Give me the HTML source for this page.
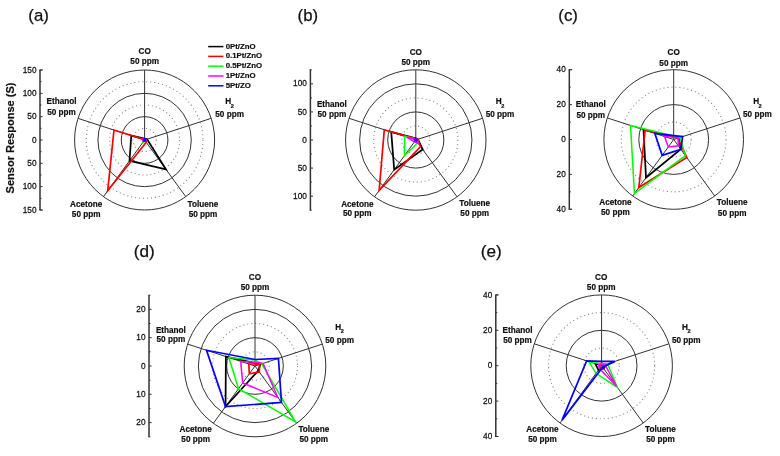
<!DOCTYPE html>
<html><head><meta charset="utf-8"><style>
html,body{margin:0;padding:0;background:#fff;}
body{width:780px;height:456px;overflow:hidden;}
svg{display:block;filter:blur(0.3px);}
text{font-family:"Liberation Sans", sans-serif;fill:#111;}
.tl{font-size:8px;stroke:#111;stroke-width:0.25px;}
.pl{font-size:16px;stroke:#111;stroke-width:0.25px;}
.cl{font-size:8.2px;font-weight:bold;stroke:#111;stroke-width:0.2px;}
.sub{font-size:5.6px;}
.yt{font-size:10.3px;font-weight:bold;stroke:#111;stroke-width:0.2px;}
.lg{font-size:7.8px;font-weight:bold;stroke:#111;stroke-width:0.2px;}
</style></head><body>
<svg width="780" height="456" viewBox="0 0 780 456">
<rect width="780" height="456" fill="#fff"/>
<circle cx="144.60" cy="140.00" r="11.67" fill="none" stroke="#8c8c8c" stroke-width="1.1" stroke-dasharray="1.1 2.9"/>
<circle cx="144.60" cy="140.00" r="35.00" fill="none" stroke="#8c8c8c" stroke-width="1.1" stroke-dasharray="1.1 2.9"/>
<circle cx="144.60" cy="140.00" r="58.33" fill="none" stroke="#8c8c8c" stroke-width="1.1" stroke-dasharray="1.1 2.9"/>
<circle cx="144.60" cy="140.00" r="23.33" fill="none" stroke="#333" stroke-width="1"/>
<circle cx="144.60" cy="140.00" r="46.67" fill="none" stroke="#333" stroke-width="1"/>
<circle cx="144.60" cy="140.00" r="70.00" fill="none" stroke="#333" stroke-width="1"/>
<line x1="144.60" y1="140.00" x2="144.60" y2="70.00" stroke="#333" stroke-width="1"/>
<line x1="144.60" y1="140.00" x2="211.17" y2="118.37" stroke="#333" stroke-width="1"/>
<line x1="144.60" y1="140.00" x2="185.74" y2="196.63" stroke="#333" stroke-width="1"/>
<line x1="144.60" y1="140.00" x2="103.46" y2="196.63" stroke="#333" stroke-width="1"/>
<line x1="144.60" y1="140.00" x2="78.03" y2="118.37" stroke="#333" stroke-width="1"/>
<polygon points="144.60,138.60 147.09,139.19 166.00,169.45 129.51,160.76 131.29,135.67" fill="none" stroke="#000000" stroke-width="1.75" stroke-linejoin="miter"/>
<polygon points="144.60,139.53 145.93,139.57 146.25,142.27 107.71,190.78 113.98,130.05" fill="none" stroke="#ff0000" stroke-width="1.7" stroke-linejoin="miter"/>
<polygon points="144.60,139.07 145.49,139.71 145.42,141.13 142.95,142.27 143.27,139.57" fill="none" stroke="#00ff00" stroke-width="1.5" stroke-linejoin="miter"/>
<polygon points="144.60,138.60 145.93,139.57 145.42,141.13 143.50,141.51 142.16,139.21" fill="none" stroke="#ff00ff" stroke-width="1.5" stroke-linejoin="miter"/>
<polygon points="144.60,138.79 145.75,139.63 145.31,140.98 143.89,140.98 143.45,139.63" fill="none" stroke="#0000ff" stroke-width="1.7" stroke-linejoin="miter"/>
<line x1="40.0" y1="70.00" x2="40.0" y2="210.00" stroke="#333" stroke-width="1.5"/>
<line x1="40.0" y1="70.00" x2="42.6" y2="70.00" stroke="#333" stroke-width="1"/>
<text transform="translate(36.50,72.60) scale(0.92,1)" text-anchor="end" class="tl" style="font-size:9px">150</text>
<line x1="40.0" y1="210.00" x2="42.6" y2="210.00" stroke="#333" stroke-width="1"/>
<text transform="translate(36.50,212.60) scale(0.92,1)" text-anchor="end" class="tl" style="font-size:9px">150</text>
<line x1="40.0" y1="93.33" x2="42.6" y2="93.33" stroke="#333" stroke-width="1"/>
<text transform="translate(36.50,95.93) scale(0.92,1)" text-anchor="end" class="tl" style="font-size:9px">100</text>
<line x1="40.0" y1="186.67" x2="42.6" y2="186.67" stroke="#333" stroke-width="1"/>
<text transform="translate(36.50,189.27) scale(0.92,1)" text-anchor="end" class="tl" style="font-size:9px">100</text>
<line x1="40.0" y1="116.67" x2="42.6" y2="116.67" stroke="#333" stroke-width="1"/>
<text transform="translate(36.50,119.27) scale(0.92,1)" text-anchor="end" class="tl" style="font-size:9px">50</text>
<line x1="40.0" y1="163.33" x2="42.6" y2="163.33" stroke="#333" stroke-width="1"/>
<text transform="translate(36.50,165.93) scale(0.92,1)" text-anchor="end" class="tl" style="font-size:9px">50</text>
<line x1="40.0" y1="140.00" x2="42.6" y2="140.00" stroke="#333" stroke-width="1"/>
<text transform="translate(36.50,142.60) scale(0.92,1)" text-anchor="end" class="tl" style="font-size:9px">0</text>
<line x1="40.0" y1="81.67" x2="41.5" y2="81.67" stroke="#333" stroke-width="1"/>
<line x1="40.0" y1="198.33" x2="41.5" y2="198.33" stroke="#333" stroke-width="1"/>
<line x1="40.0" y1="105.00" x2="41.5" y2="105.00" stroke="#333" stroke-width="1"/>
<line x1="40.0" y1="175.00" x2="41.5" y2="175.00" stroke="#333" stroke-width="1"/>
<line x1="40.0" y1="128.33" x2="41.5" y2="128.33" stroke="#333" stroke-width="1"/>
<line x1="40.0" y1="151.67" x2="41.5" y2="151.67" stroke="#333" stroke-width="1"/>
<line x1="39.25" y1="70.00" x2="42.6" y2="70.00" stroke="#333" stroke-width="1"/>
<line x1="39.25" y1="210.00" x2="42.6" y2="210.00" stroke="#333" stroke-width="1"/>
<text x="28.3" y="20.9" class="pl" style="font-size:16.8px">(a)</text>
<text x="144.70" y="53.70" text-anchor="middle" class="cl">CO</text>
<text x="144.70" y="63.80" text-anchor="middle" class="cl">50 ppm</text>
<text x="61.50" y="104.20" text-anchor="middle" class="cl">Ethanol</text>
<text x="61.50" y="114.80" text-anchor="middle" class="cl">50 ppm</text>
<text x="86.20" y="206.70" text-anchor="middle" class="cl">Acetone</text>
<text x="86.20" y="217.00" text-anchor="middle" class="cl">50 ppm</text>
<text x="203.00" y="206.50" text-anchor="middle" class="cl">Toluene</text>
<text x="203.00" y="216.70" text-anchor="middle" class="cl">50 ppm</text>
<text x="229.60" y="103.80" text-anchor="middle" class="cl">H<tspan class="sub" dx="-0.5" dy="3.7">2</tspan></text>
<text x="229.60" y="116.90" text-anchor="middle" class="cl">50 ppm</text>
<circle cx="415.80" cy="140.00" r="14.04" fill="none" stroke="#8c8c8c" stroke-width="1.1" stroke-dasharray="1.1 2.9"/>
<circle cx="415.80" cy="140.00" r="42.12" fill="none" stroke="#8c8c8c" stroke-width="1.1" stroke-dasharray="1.1 2.9"/>
<circle cx="415.80" cy="140.00" r="28.08" fill="none" stroke="#333" stroke-width="1"/>
<circle cx="415.80" cy="140.00" r="56.16" fill="none" stroke="#333" stroke-width="1"/>
<circle cx="415.80" cy="140.00" r="70.20" fill="none" stroke="#333" stroke-width="1"/>
<line x1="415.80" y1="140.00" x2="415.80" y2="69.80" stroke="#333" stroke-width="1"/>
<line x1="415.80" y1="140.00" x2="482.56" y2="118.31" stroke="#333" stroke-width="1"/>
<line x1="415.80" y1="140.00" x2="457.06" y2="196.79" stroke="#333" stroke-width="1"/>
<line x1="415.80" y1="140.00" x2="374.54" y2="196.79" stroke="#333" stroke-width="1"/>
<line x1="415.80" y1="140.00" x2="349.04" y2="118.31" stroke="#333" stroke-width="1"/>
<polygon points="415.80,138.32 417.94,139.31 422.73,149.54 394.21,169.71 391.23,132.02" fill="none" stroke="#000000" stroke-width="1.75" stroke-linejoin="miter"/>
<polygon points="415.80,138.88 417.40,139.48 420.52,146.50 379.16,190.43 384.29,129.76" fill="none" stroke="#ff0000" stroke-width="1.7" stroke-linejoin="miter"/>
<polygon points="415.80,138.88 417.40,139.48 417.78,142.73 404.41,155.67 404.58,136.36" fill="none" stroke="#00ff00" stroke-width="1.5" stroke-linejoin="miter"/>
<polygon points="415.80,138.88 417.40,139.48 418.28,143.41 414.48,141.82 406.72,137.05" fill="none" stroke="#ff00ff" stroke-width="1.5" stroke-linejoin="miter"/>
<polygon points="415.80,138.99 416.98,139.62 416.53,141.00 415.21,140.82 414.62,139.62" fill="none" stroke="#0000ff" stroke-width="1.7" stroke-linejoin="miter"/>
<line x1="310.4" y1="69.80" x2="310.4" y2="210.20" stroke="#333" stroke-width="1.5"/>
<line x1="310.4" y1="83.84" x2="313.0" y2="83.84" stroke="#333" stroke-width="1"/>
<text transform="translate(306.90,86.44) scale(0.92,1)" text-anchor="end" class="tl" style="font-size:9px">100</text>
<line x1="310.4" y1="196.16" x2="313.0" y2="196.16" stroke="#333" stroke-width="1"/>
<text transform="translate(306.90,198.76) scale(0.92,1)" text-anchor="end" class="tl" style="font-size:9px">100</text>
<line x1="310.4" y1="111.92" x2="313.0" y2="111.92" stroke="#333" stroke-width="1"/>
<text transform="translate(306.90,114.52) scale(0.92,1)" text-anchor="end" class="tl" style="font-size:9px">50</text>
<line x1="310.4" y1="168.08" x2="313.0" y2="168.08" stroke="#333" stroke-width="1"/>
<text transform="translate(306.90,170.68) scale(0.92,1)" text-anchor="end" class="tl" style="font-size:9px">50</text>
<line x1="310.4" y1="140.00" x2="313.0" y2="140.00" stroke="#333" stroke-width="1"/>
<text transform="translate(306.90,142.60) scale(0.92,1)" text-anchor="end" class="tl" style="font-size:9px">0</text>
<line x1="310.4" y1="97.88" x2="311.9" y2="97.88" stroke="#333" stroke-width="1"/>
<line x1="310.4" y1="182.12" x2="311.9" y2="182.12" stroke="#333" stroke-width="1"/>
<line x1="310.4" y1="125.96" x2="311.9" y2="125.96" stroke="#333" stroke-width="1"/>
<line x1="310.4" y1="154.04" x2="311.9" y2="154.04" stroke="#333" stroke-width="1"/>
<line x1="309.65" y1="69.80" x2="311.79999999999995" y2="69.80" stroke="#333" stroke-width="1"/>
<line x1="309.65" y1="210.20" x2="311.79999999999995" y2="210.20" stroke="#333" stroke-width="1"/>
<text x="297.6" y="20.9" class="pl" style="font-size:16.8px">(b)</text>
<text x="415.80" y="54.50" text-anchor="middle" class="cl">CO</text>
<text x="415.80" y="64.70" text-anchor="middle" class="cl">50 ppm</text>
<text x="331.90" y="106.70" text-anchor="middle" class="cl">Ethanol</text>
<text x="331.90" y="116.90" text-anchor="middle" class="cl">50 ppm</text>
<text x="357.30" y="206.50" text-anchor="middle" class="cl">Acetone</text>
<text x="357.30" y="216.40" text-anchor="middle" class="cl">50 ppm</text>
<text x="474.70" y="206.20" text-anchor="middle" class="cl">Toluene</text>
<text x="474.70" y="216.40" text-anchor="middle" class="cl">50 ppm</text>
<text x="500.00" y="104.20" text-anchor="middle" class="cl">H<tspan class="sub" dx="-0.5" dy="3.7">2</tspan></text>
<text x="500.00" y="116.90" text-anchor="middle" class="cl">50 ppm</text>
<circle cx="673.70" cy="139.50" r="17.45" fill="none" stroke="#8c8c8c" stroke-width="1.1" stroke-dasharray="1.1 2.9"/>
<circle cx="673.70" cy="139.50" r="52.35" fill="none" stroke="#8c8c8c" stroke-width="1.1" stroke-dasharray="1.1 2.9"/>
<circle cx="673.70" cy="139.50" r="34.90" fill="none" stroke="#333" stroke-width="1"/>
<circle cx="673.70" cy="139.50" r="69.80" fill="none" stroke="#333" stroke-width="1"/>
<line x1="673.70" y1="139.50" x2="673.70" y2="69.70" stroke="#333" stroke-width="1"/>
<line x1="673.70" y1="139.50" x2="740.08" y2="117.93" stroke="#333" stroke-width="1"/>
<line x1="673.70" y1="139.50" x2="714.73" y2="195.97" stroke="#333" stroke-width="1"/>
<line x1="673.70" y1="139.50" x2="632.67" y2="195.97" stroke="#333" stroke-width="1"/>
<line x1="673.70" y1="139.50" x2="607.32" y2="117.93" stroke="#333" stroke-width="1"/>
<polygon points="673.70,136.88 678.68,137.88 680.78,149.24 646.01,177.62 643.50,129.69" fill="none" stroke="#000000" stroke-width="1.75" stroke-linejoin="miter"/>
<polygon points="673.70,136.88 677.85,138.15 686.73,157.43 638.83,187.50 645.15,130.23" fill="none" stroke="#ff0000" stroke-width="1.7" stroke-linejoin="miter"/>
<polygon points="673.70,136.01 680.01,137.45 685.39,155.59 634.42,193.57 630.55,125.48" fill="none" stroke="#00ff00" stroke-width="1.5" stroke-linejoin="miter"/>
<polygon points="673.70,136.88 678.18,138.04 678.32,145.85 668.26,146.98 664.57,136.53" fill="none" stroke="#ff00ff" stroke-width="1.5" stroke-linejoin="miter"/>
<polygon points="673.70,135.66 682.66,136.59 680.78,149.24 662.21,155.31 654.78,133.35" fill="none" stroke="#0000ff" stroke-width="1.7" stroke-linejoin="miter"/>
<line x1="569.3" y1="69.70" x2="569.3" y2="209.30" stroke="#333" stroke-width="1.5"/>
<line x1="569.3" y1="69.70" x2="571.9" y2="69.70" stroke="#333" stroke-width="1"/>
<text transform="translate(565.80,72.30) scale(0.92,1)" text-anchor="end" class="tl" style="font-size:9px">40</text>
<line x1="569.3" y1="209.30" x2="571.9" y2="209.30" stroke="#333" stroke-width="1"/>
<text transform="translate(565.80,211.90) scale(0.92,1)" text-anchor="end" class="tl" style="font-size:9px">40</text>
<line x1="569.3" y1="104.60" x2="571.9" y2="104.60" stroke="#333" stroke-width="1"/>
<text transform="translate(565.80,107.20) scale(0.92,1)" text-anchor="end" class="tl" style="font-size:9px">20</text>
<line x1="569.3" y1="174.40" x2="571.9" y2="174.40" stroke="#333" stroke-width="1"/>
<text transform="translate(565.80,177.00) scale(0.92,1)" text-anchor="end" class="tl" style="font-size:9px">20</text>
<line x1="569.3" y1="139.50" x2="571.9" y2="139.50" stroke="#333" stroke-width="1"/>
<text transform="translate(565.80,142.10) scale(0.92,1)" text-anchor="end" class="tl" style="font-size:9px">0</text>
<line x1="569.3" y1="87.15" x2="570.8" y2="87.15" stroke="#333" stroke-width="1"/>
<line x1="569.3" y1="191.85" x2="570.8" y2="191.85" stroke="#333" stroke-width="1"/>
<line x1="569.3" y1="122.05" x2="570.8" y2="122.05" stroke="#333" stroke-width="1"/>
<line x1="569.3" y1="156.95" x2="570.8" y2="156.95" stroke="#333" stroke-width="1"/>
<line x1="568.55" y1="69.70" x2="571.9" y2="69.70" stroke="#333" stroke-width="1"/>
<line x1="568.55" y1="209.30" x2="571.9" y2="209.30" stroke="#333" stroke-width="1"/>
<text x="558.3" y="20.9" class="pl" style="font-size:16.8px">(c)</text>
<text x="673.70" y="55.00" text-anchor="middle" class="cl">CO</text>
<text x="673.70" y="65.70" text-anchor="middle" class="cl">50 ppm</text>
<text x="590.75" y="106.50" text-anchor="middle" class="cl">Ethanol</text>
<text x="590.75" y="117.50" text-anchor="middle" class="cl">50 ppm</text>
<text x="615.40" y="205.20" text-anchor="middle" class="cl">Acetone</text>
<text x="615.40" y="215.40" text-anchor="middle" class="cl">50 ppm</text>
<text x="732.20" y="204.90" text-anchor="middle" class="cl">Toluene</text>
<text x="732.20" y="215.70" text-anchor="middle" class="cl">50 ppm</text>
<text x="757.40" y="104.20" text-anchor="middle" class="cl">H<tspan class="sub" dx="-0.5" dy="3.7">2</tspan></text>
<text x="757.40" y="117.30" text-anchor="middle" class="cl">50 ppm</text>
<circle cx="255.00" cy="366.00" r="14.16" fill="none" stroke="#8c8c8c" stroke-width="1.1" stroke-dasharray="1.1 2.9"/>
<circle cx="255.00" cy="366.00" r="42.48" fill="none" stroke="#8c8c8c" stroke-width="1.1" stroke-dasharray="1.1 2.9"/>
<circle cx="255.00" cy="366.00" r="28.32" fill="none" stroke="#333" stroke-width="1"/>
<circle cx="255.00" cy="366.00" r="56.64" fill="none" stroke="#333" stroke-width="1"/>
<circle cx="255.00" cy="366.00" r="70.80" fill="none" stroke="#333" stroke-width="1"/>
<line x1="255.00" y1="366.00" x2="255.00" y2="295.20" stroke="#333" stroke-width="1"/>
<line x1="255.00" y1="366.00" x2="322.33" y2="344.12" stroke="#333" stroke-width="1"/>
<line x1="255.00" y1="366.00" x2="296.62" y2="423.28" stroke="#333" stroke-width="1"/>
<line x1="255.00" y1="366.00" x2="213.38" y2="423.28" stroke="#333" stroke-width="1"/>
<line x1="255.00" y1="366.00" x2="187.67" y2="344.12" stroke="#333" stroke-width="1"/>
<polygon points="255.00,363.17 260.39,364.25 258.33,370.58 225.54,406.55 225.91,356.55" fill="none" stroke="#000000" stroke-width="1.75" stroke-linejoin="miter"/>
<polygon points="255.00,364.02 259.58,364.51 259.33,371.96 249.34,373.79 248.81,363.99" fill="none" stroke="#ff0000" stroke-width="1.7" stroke-linejoin="miter"/>
<polygon points="255.00,360.05 261.73,363.81 295.62,421.90 238.52,388.68 228.87,357.51" fill="none" stroke="#00ff00" stroke-width="1.5" stroke-linejoin="miter"/>
<polygon points="255.00,362.32 263.08,363.37 277.81,397.39 242.68,382.95 240.73,361.36" fill="none" stroke="#ff00ff" stroke-width="1.5" stroke-linejoin="miter"/>
<polygon points="255.00,359.49 278.43,358.39 281.47,402.43 225.54,406.55 206.52,350.25" fill="none" stroke="#0000ff" stroke-width="1.7" stroke-linejoin="miter"/>
<line x1="149.0" y1="295.20" x2="149.0" y2="436.80" stroke="#333" stroke-width="1.5"/>
<line x1="149.0" y1="309.36" x2="151.6" y2="309.36" stroke="#333" stroke-width="1"/>
<text transform="translate(145.50,311.96) scale(0.92,1)" text-anchor="end" class="tl" style="font-size:9px">20</text>
<line x1="149.0" y1="422.64" x2="151.6" y2="422.64" stroke="#333" stroke-width="1"/>
<text transform="translate(145.50,425.24) scale(0.92,1)" text-anchor="end" class="tl" style="font-size:9px">20</text>
<line x1="149.0" y1="337.68" x2="151.6" y2="337.68" stroke="#333" stroke-width="1"/>
<text transform="translate(145.50,340.28) scale(0.92,1)" text-anchor="end" class="tl" style="font-size:9px">10</text>
<line x1="149.0" y1="394.32" x2="151.6" y2="394.32" stroke="#333" stroke-width="1"/>
<text transform="translate(145.50,396.92) scale(0.92,1)" text-anchor="end" class="tl" style="font-size:9px">10</text>
<line x1="149.0" y1="366.00" x2="151.6" y2="366.00" stroke="#333" stroke-width="1"/>
<text transform="translate(145.50,368.60) scale(0.92,1)" text-anchor="end" class="tl" style="font-size:9px">0</text>
<line x1="149.0" y1="323.52" x2="150.5" y2="323.52" stroke="#333" stroke-width="1"/>
<line x1="149.0" y1="408.48" x2="150.5" y2="408.48" stroke="#333" stroke-width="1"/>
<line x1="149.0" y1="351.84" x2="150.5" y2="351.84" stroke="#333" stroke-width="1"/>
<line x1="149.0" y1="380.16" x2="150.5" y2="380.16" stroke="#333" stroke-width="1"/>
<line x1="148.25" y1="295.20" x2="150.4" y2="295.20" stroke="#333" stroke-width="1"/>
<line x1="148.25" y1="436.80" x2="150.4" y2="436.80" stroke="#333" stroke-width="1"/>
<text x="133.8" y="256.9" class="pl" style="font-size:17.2px">(d)</text>
<text x="255.00" y="280.40" text-anchor="middle" class="cl">CO</text>
<text x="255.00" y="290.40" text-anchor="middle" class="cl">50 ppm</text>
<text x="170.90" y="332.70" text-anchor="middle" class="cl">Ethanol</text>
<text x="170.90" y="342.30" text-anchor="middle" class="cl">50 ppm</text>
<text x="195.70" y="431.80" text-anchor="middle" class="cl">Acetone</text>
<text x="195.70" y="442.40" text-anchor="middle" class="cl">50 ppm</text>
<text x="313.80" y="431.80" text-anchor="middle" class="cl">Toluene</text>
<text x="313.80" y="442.40" text-anchor="middle" class="cl">50 ppm</text>
<text x="339.60" y="329.60" text-anchor="middle" class="cl">H<tspan class="sub" dx="-0.5" dy="3.7">2</tspan></text>
<text x="339.60" y="342.60" text-anchor="middle" class="cl">50 ppm</text>
<circle cx="601.60" cy="365.70" r="17.70" fill="none" stroke="#8c8c8c" stroke-width="1.1" stroke-dasharray="1.1 2.9"/>
<circle cx="601.60" cy="365.70" r="53.10" fill="none" stroke="#8c8c8c" stroke-width="1.1" stroke-dasharray="1.1 2.9"/>
<circle cx="601.60" cy="365.70" r="35.40" fill="none" stroke="#333" stroke-width="1"/>
<circle cx="601.60" cy="365.70" r="70.80" fill="none" stroke="#333" stroke-width="1"/>
<line x1="601.60" y1="365.70" x2="601.60" y2="294.90" stroke="#333" stroke-width="1"/>
<line x1="601.60" y1="365.70" x2="668.93" y2="343.82" stroke="#333" stroke-width="1"/>
<line x1="601.60" y1="365.70" x2="643.22" y2="422.98" stroke="#333" stroke-width="1"/>
<line x1="601.60" y1="365.70" x2="559.98" y2="422.98" stroke="#333" stroke-width="1"/>
<line x1="601.60" y1="365.70" x2="534.27" y2="343.82" stroke="#333" stroke-width="1"/>
<polygon points="601.60,363.93 606.65,364.06 603.68,368.56 598.48,370.00 595.20,363.62" fill="none" stroke="#000000" stroke-width="1.75" stroke-linejoin="miter"/>
<polygon points="601.60,363.05 604.13,364.88 603.16,367.85 600.04,367.85 599.07,364.88" fill="none" stroke="#ff0000" stroke-width="1.7" stroke-linejoin="miter"/>
<polygon points="601.60,363.93 607.49,363.79 617.41,387.47 596.09,373.29 588.81,361.54" fill="none" stroke="#00ff00" stroke-width="1.5" stroke-linejoin="miter"/>
<polygon points="601.60,363.93 604.97,364.61 616.58,386.32 599.52,368.56 598.57,364.72" fill="none" stroke="#ff00ff" stroke-width="1.5" stroke-linejoin="miter"/>
<polygon points="601.60,361.45 614.90,361.38 602.64,367.13 562.07,420.11 586.62,360.83" fill="none" stroke="#0000ff" stroke-width="1.7" stroke-linejoin="miter"/>
<line x1="495.8" y1="294.90" x2="495.8" y2="436.50" stroke="#333" stroke-width="1.5"/>
<line x1="495.8" y1="294.90" x2="498.40000000000003" y2="294.90" stroke="#333" stroke-width="1"/>
<text transform="translate(492.30,297.50) scale(0.92,1)" text-anchor="end" class="tl" style="font-size:9px">40</text>
<line x1="495.8" y1="436.50" x2="498.40000000000003" y2="436.50" stroke="#333" stroke-width="1"/>
<text transform="translate(492.30,439.10) scale(0.92,1)" text-anchor="end" class="tl" style="font-size:9px">40</text>
<line x1="495.8" y1="330.30" x2="498.40000000000003" y2="330.30" stroke="#333" stroke-width="1"/>
<text transform="translate(492.30,332.90) scale(0.92,1)" text-anchor="end" class="tl" style="font-size:9px">20</text>
<line x1="495.8" y1="401.10" x2="498.40000000000003" y2="401.10" stroke="#333" stroke-width="1"/>
<text transform="translate(492.30,403.70) scale(0.92,1)" text-anchor="end" class="tl" style="font-size:9px">20</text>
<line x1="495.8" y1="365.70" x2="498.40000000000003" y2="365.70" stroke="#333" stroke-width="1"/>
<text transform="translate(492.30,368.30) scale(0.92,1)" text-anchor="end" class="tl" style="font-size:9px">0</text>
<line x1="495.8" y1="312.60" x2="497.3" y2="312.60" stroke="#333" stroke-width="1"/>
<line x1="495.8" y1="418.80" x2="497.3" y2="418.80" stroke="#333" stroke-width="1"/>
<line x1="495.8" y1="348.00" x2="497.3" y2="348.00" stroke="#333" stroke-width="1"/>
<line x1="495.8" y1="383.40" x2="497.3" y2="383.40" stroke="#333" stroke-width="1"/>
<line x1="495.05" y1="294.90" x2="498.40000000000003" y2="294.90" stroke="#333" stroke-width="1"/>
<line x1="495.05" y1="436.50" x2="498.40000000000003" y2="436.50" stroke="#333" stroke-width="1"/>
<text x="480.8" y="256.9" class="pl" style="font-size:17.2px">(e)</text>
<text x="601.20" y="280.40" text-anchor="middle" class="cl">CO</text>
<text x="601.20" y="290.30" text-anchor="middle" class="cl">50 ppm</text>
<text x="517.50" y="332.50" text-anchor="middle" class="cl">Ethanol</text>
<text x="517.50" y="342.60" text-anchor="middle" class="cl">50 ppm</text>
<text x="542.50" y="431.80" text-anchor="middle" class="cl">Acetone</text>
<text x="542.50" y="442.40" text-anchor="middle" class="cl">50 ppm</text>
<text x="660.50" y="431.80" text-anchor="middle" class="cl">Toluene</text>
<text x="660.50" y="442.40" text-anchor="middle" class="cl">50 ppm</text>
<text x="686.30" y="329.60" text-anchor="middle" class="cl">H<tspan class="sub" dx="-0.5" dy="3.7">2</tspan></text>
<text x="686.30" y="342.60" text-anchor="middle" class="cl">50 ppm</text>
<text transform="translate(13.9,138.0) rotate(-90) scale(1.072,1)" text-anchor="middle" class="yt">Sensor Response (S)</text>
<line x1="208.2" y1="46.60" x2="223.4" y2="46.60" stroke="#000000" stroke-width="1.5"/>
<text x="225.7" y="48.50" class="lg">0Pt/ZnO</text>
<line x1="208.2" y1="56.40" x2="223.4" y2="56.40" stroke="#ff0000" stroke-width="1.5"/>
<text x="225.7" y="58.30" class="lg">0.1Pt/ZnO</text>
<line x1="208.2" y1="66.20" x2="223.4" y2="66.20" stroke="#00ff00" stroke-width="1.5"/>
<text x="225.7" y="68.10" class="lg">0.5Pt/ZnO</text>
<line x1="208.2" y1="76.00" x2="223.4" y2="76.00" stroke="#ff00ff" stroke-width="1.5"/>
<text x="225.7" y="77.90" class="lg">1Pt/ZnO</text>
<line x1="208.2" y1="85.80" x2="223.4" y2="85.80" stroke="#0000ff" stroke-width="1.5"/>
<text x="225.7" y="87.70" class="lg">5Pt/ZO</text>
</svg>
</body></html>
